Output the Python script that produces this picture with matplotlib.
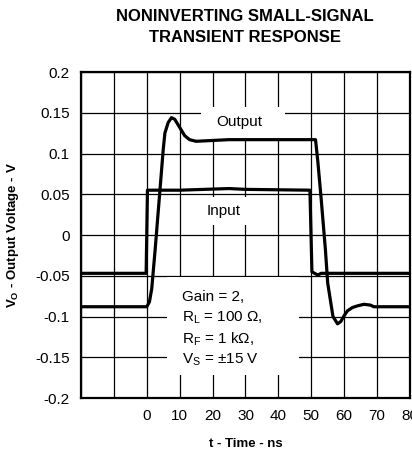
import matplotlib
matplotlib.use("Agg")
import matplotlib.pyplot as plt
from matplotlib.patches import Rectangle

plt.rcParams["font.family"] = ["Liberation Sans", "DejaVu Sans"]
plt.rcParams["mathtext.fontset"] = "custom"
plt.rcParams["mathtext.rm"] = "Liberation Sans"
plt.rcParams["mathtext.it"] = "Liberation Sans:italic"
plt.rcParams["mathtext.bf"] = "Liberation Sans:bold"

# output trace (ns, V)
t_out = [-20, 0, 0.8, 1.5, 2.5, 3.5, 4.5, 5, 5.5, 6.5, 7.5, 8.5, 10, 11.5, 13, 15,
         20, 25, 30, 35, 40, 45, 51.3, 52, 53, 54.3, 55, 56.6, 58, 59, 60, 61,
         62.5, 64, 66, 68, 69, 80]
v_out = [-0.088, -0.088, -0.082, -0.066, -0.02, 0.03, 0.08, 0.105, 0.125, 0.138,
         0.144, 0.142, 0.132, 0.122, 0.117, 0.115, 0.116, 0.117, 0.117, 0.117,
         0.117, 0.117, 0.117, 0.09, 0.045, -0.018, -0.059, -0.1, -0.109, -0.106,
         -0.099, -0.093, -0.089, -0.087, -0.085, -0.086, -0.088, -0.088]

# input trace
t_in = [-20, -0.2, 0.2, 10, 25, 30, 49.6, 50.2, 51, 52, 53, 80]
v_in = [-0.047, -0.047, 0.055, 0.055, 0.057, 0.056, 0.055, -0.045, -0.047, -0.049,
        -0.047, -0.047]

xticks = [-20, -10, 0, 10, 20, 30, 40, 50, 60, 70, 80]
xlabels = ["", "", "0", "10", "20", "30", "40", "50", "60", "70", "80"]
yticks = [-0.2, -0.15, -0.1, -0.05, 0, 0.05, 0.1, 0.15, 0.2]
ylabels = ["-0.2", "-0.15", "-0.1", "-0.05", "0", "0.05", "0.1", "0.15", "0.2"]

notes = ["Gain = 2,", r"R$_\mathrm{L}$ = 100 Ω,", r"R$_\mathrm{F}$ = 1 kΩ,",
         r"V$_\mathrm{S}$ = ±15 V"]

fig = plt.figure(figsize=(4.12, 4.54), dpi=100)
ax = fig.add_axes([0.1966, 0.1233, 0.7984, 0.7181])

ax.set_xlim(-20, 80)
ax.set_ylim(-0.2, 0.2)
ax.set_xticks(xticks)
ax.set_xticklabels(xlabels)
ax.set_yticks(yticks)
ax.set_yticklabels(ylabels)
ax.tick_params(length=0, labelsize=11, pad=8)
ax.set_axisbelow(True)
ax.grid(True, color="black", lw=0.9)
for s in ax.spines.values():
    s.set_linewidth(1.6)

# white areas behind the labels
ax.add_patch(Rectangle((16.6, 0.118), 25.4, 0.039, fc="white", ec="none", zorder=1))
ax.add_patch(Rectangle((13, 0.012), 21, 0.035, fc="white", ec="none", zorder=1))
ax.add_patch(Rectangle((6, -0.172), 40.3, 0.121, fc="white", ec="none", zorder=1))

ax.plot(t_out, v_out, color="black", lw=2.3, zorder=3, solid_joinstyle="round")
ax.plot(t_in, v_in, color="black", lw=2.3, zorder=3, solid_joinstyle="round")

ax.text(28, 0.139, "Output", ha="center", va="center", fontsize=11, zorder=4)
ax.text(23.3, 0.030, "Input", ha="center", va="center", fontsize=11, zorder=4)
ys = [-0.0757, -0.102, -0.128, -0.153]
for y, s in zip(ys, notes):
    ax.text(10.6, y, s, ha="left", va="center", fontsize=11, zorder=4)

ax.set_xlabel("t - Time - ns", fontsize=9.5, fontweight="bold", labelpad=11)
ax.set_ylabel(r"$\mathbf{V_O}$ - Output Voltage - V", fontsize=9.5,
              fontweight="bold", labelpad=10)
fig.text(0.595, 0.94, "NONINVERTING SMALL-SIGNAL\nTRANSIENT RESPONSE",
         ha="center", va="center", fontsize=12, fontweight="bold", linespacing=1.5)

fig.savefig("out.png", dpi=100)
